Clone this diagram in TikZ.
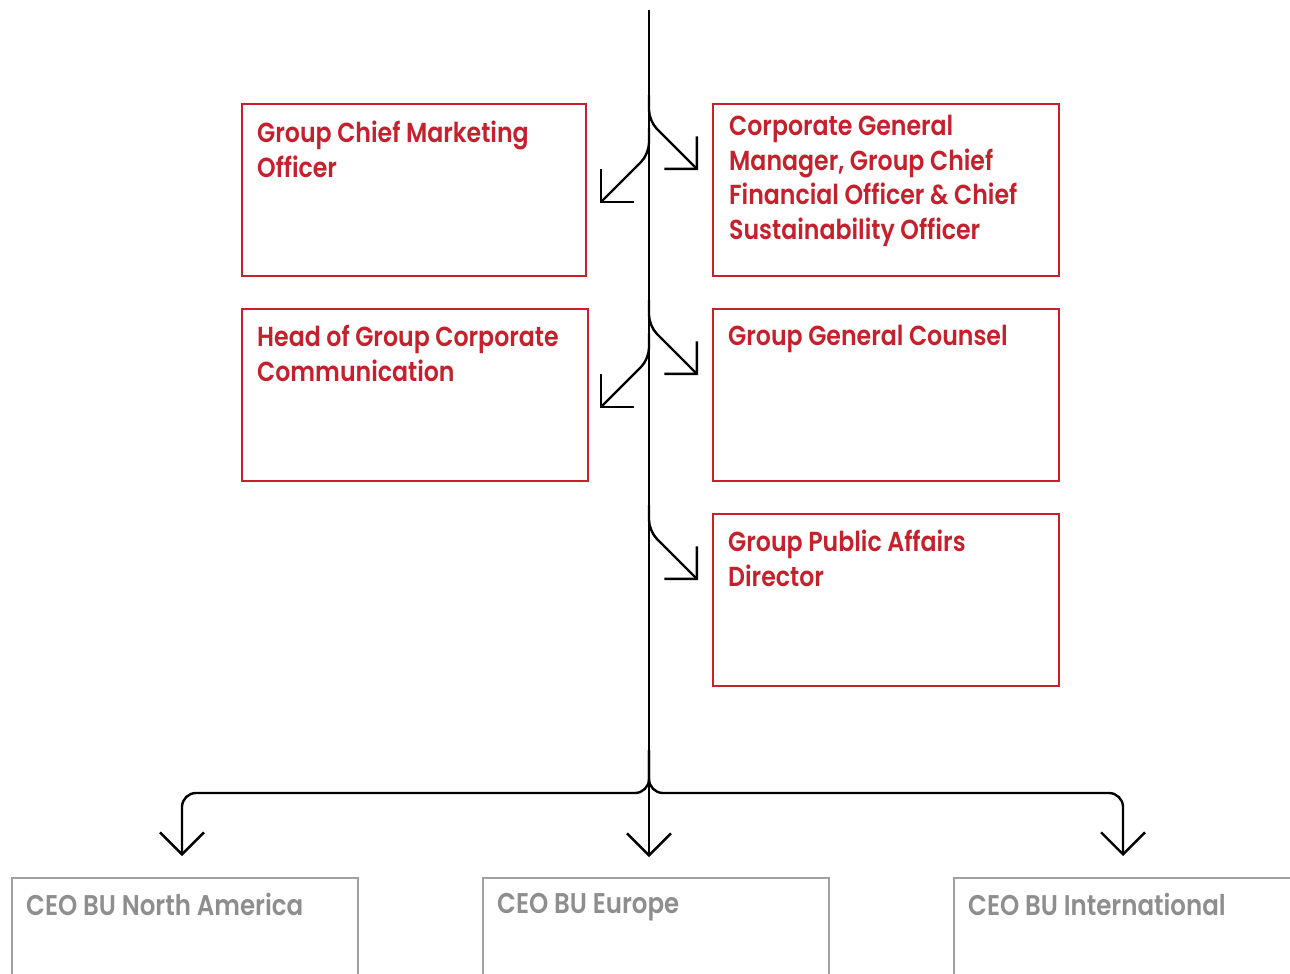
\documentclass[tikz,border=0pt]{standalone}
\usepackage{fontspec}
\setmainfont{Poppins SemiBold}[FakeStretch=0.86]
\usetikzlibrary{arrows.meta}
\definecolor{boxred}{RGB}{198,32,44}
\definecolor{boxgrey}{RGB}{160,160,160}
\definecolor{txtgrey}{RGB}{142,142,142}
\tikzset{
  redbox/.style={draw=boxred, line width=2pt, minimum width=#1, minimum height=172pt, inner sep=0pt, anchor=north west},
  greybox/.style={draw=boxgrey, line width=2pt, minimum width=346pt, minimum height=172pt, inner sep=0pt, anchor=north west},
  redtxt/.style={text=boxred, font=\fontsize{27.5}{34.5}\selectfont, align=left, inner sep=0pt, anchor=north west},
  greytxt/.style={text=txtgrey, font=\fontsize{28.5}{34.5}\selectfont, align=left, inner sep=0pt, anchor=north west},
  conn/.style={draw=black, line width=2.4pt},
  branch/.style={conn, rounded corners=11pt, -{Straight Barb[length=23pt,width=46pt,line width=2.4pt]}},
}
\begin{document}
\begin{tikzpicture}[x=1pt,y=-1pt]
\useasboundingbox (0,0) rectangle (1290,974);
\clip (0,0) rectangle (1290,974);
% red boxes
\node[redbox=344pt] (b1) at (241,103) {};
\node[redbox=346pt] (b2) at (712,103) {};
\node[redbox=346pt] (b3) at (241,308) {};
\node[redbox=346pt] (b4) at (712,308) {};
\node[redbox=346pt] (b5) at (712,513) {};
\node[redtxt] (t1) at (257,121) {Group Chief Marketing\\Officer};
\node[redtxt] (t2) at (729,115) {Corporate General\\Manager, Group Chief\\Financial Officer \& Chief\\Sustainability Officer};
\node[redtxt] (t3) at (257,325) {Head of Group Corporate\\Communication};
\node[redtxt] (t4) at (728,325) {Group General Counsel};
\node[redtxt] (t5) at (728,530) {Group Public Affairs\\Director};
% grey boxes
\node[greybox] (g1) at (11,877) {};
\node[greybox] (g2) at (482,877) {};
\node[greybox] (g3) at (953,877) {};
\node[greytxt] (u1) at (26,893) {CEO BU North America};
\node[greytxt] (u2) at (497,893) {CEO BU Europe};
\node[greytxt] (u3) at (968,893) {CEO BU International};
% spine
\coordinate (top) at (649,10);
\coordinate (junc) at (649,793);
\coordinate (e2) at (649,857);
\draw[conn, -{Straight Barb[length=22pt,width=44pt,line width=2.4pt]}] (top) -- (e2);
% branch arrows
\coordinate (r1) at (698,170);
\coordinate (l1) at (600,203);
\coordinate (r2) at (698,375);
\coordinate (l2) at (600,408);
\coordinate (r3) at (698,580);
\draw[branch] (649,95) -- (649,121) -- (r1);
\draw[branch] (649,128) -- (649,154) -- (l1);
\draw[branch] (649,300) -- (649,326) -- (r2);
\draw[branch] (649,333) -- (649,359) -- (l2);
\draw[branch] (649,505) -- (649,531) -- (r3);
% bottom split
\coordinate (e1) at (182,856);
\coordinate (e3) at (1123,856);
\draw[conn, rounded corners=14pt, -{Straight Barb[length=22pt,width=44pt,line width=2.4pt]}] (649,750) -- (junc) -- (182,793) -- (e1);
\draw[conn, rounded corners=14pt, -{Straight Barb[length=22pt,width=44pt,line width=2.4pt]}] (649,750) -- (junc) -- (1123,793) -- (e3);
\end{tikzpicture}
\end{document}
